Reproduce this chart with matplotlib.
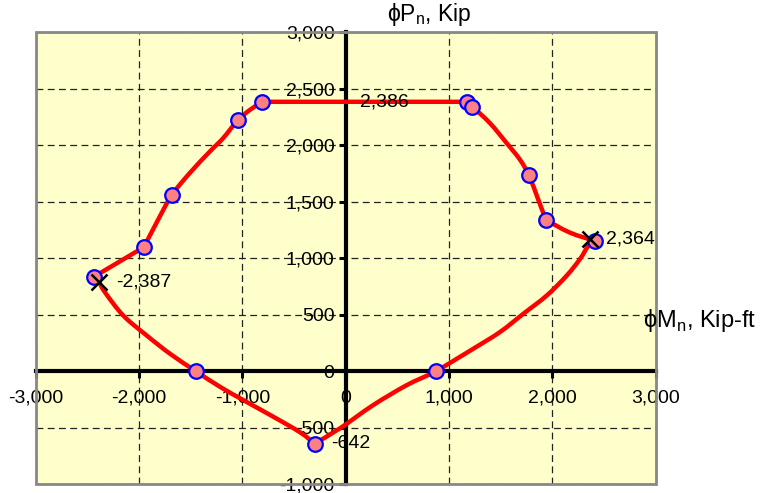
import matplotlib
matplotlib.use("Agg")
import matplotlib.pyplot as plt
from matplotlib.patches import Rectangle, PathPatch
from matplotlib.path import Path
from matplotlib.ticker import FuncFormatter, MultipleLocator

plt.rcParams['font.family'] = ['Liberation Sans', 'DejaVu Sans']

# outline of the interaction diagram (phi Mn, phi Pn)
curve_m = [-2437, -1953, -1830, -1685, -1507, -1313, -1185, -1046, -926, -807,
           0, 1171, 1226, 1397, 1558, 1687, 1774, 1864, 1939, 2171, 2413,
           2349, 2268, 2139, 1946, 1719, 1494, 1235, 874, 590, 267, -55, -300,
           -442, -701, -991, -1217, -1452, -1701, -1927, -2153, -2330, -2387, -2437]
curve_p = [836, 1098, 1316, 1556, 1757, 1947, 2065, 2221, 2315, 2386,
           2386, 2386, 2344, 2197, 2021, 1874, 1735, 1521, 1339, 1227, 1153,
           1109, 992, 845, 669, 507, 346, 198, 0, -125, -301, -507, -642,
           -542, -404, -257, -139, 0, 154, 316, 492, 698, 790, 836]
# vertices where the outline has a sharp corner
corners = {0, 1, 9, 10, 11, 12, 18, 20, 32, 42, 43}

# computed points shown as circles
pts_m = [-2437, -1953, -1685, -1046, -807, 1171, 1226, 1774, 1939, 2413, 874, -300, -1452]
pts_p = [836, 1098, 1556, 2221, 2386, 2386, 2344, 1735, 1339, 1153, 0, -642, 0]

# balanced points (x markers)
bal_m = [-2387, 2364]
bal_p = [790, 1168]

# data labels
lab_m = [0, -2387, 2364, -300]
lab_p = [2386, 790, 1168, -642]
lab_txt = ["2,386", "-2,387", "2,364", "-642"]


def smooth_path(xs, ys, sharp):
    # smoothed line through the points, kept sharp at the corner vertices
    pts = list(zip(xs, ys))
    verts = [pts[0]]
    codes = [Path.MOVETO]
    n = len(pts)
    for i in range(n - 1):
        p1 = pts[i]
        p2 = pts[i + 1]
        p0 = p1 if (i in sharp or i == 0) else pts[i - 1]
        p3 = p2 if (i + 1 in sharp or i + 1 == n - 1) else pts[i + 2]
        c1 = (p1[0] + (p2[0] - p0[0]) / 6, p1[1] + (p2[1] - p0[1]) / 6)
        c2 = (p2[0] - (p3[0] - p1[0]) / 6, p2[1] - (p3[1] - p1[1]) / 6)
        verts += [c1, c2, p2]
        codes += [Path.CURVE4] * 3
    return Path(verts, codes)


fig = plt.figure(figsize=(7.61, 4.93), dpi=100)
ax = fig.add_axes([0.047, 0.0183, 0.8144, 0.9158])
ax.set_facecolor('#FFFFCC')
ax.set_xlim(-3000, 3000)
ax.set_ylim(-1000, 3000)

ax.xaxis.set_major_locator(MultipleLocator(1000))
ax.yaxis.set_major_locator(MultipleLocator(500))
fmt = FuncFormatter(lambda v, pos: f"{v:,.0f}")
ax.xaxis.set_major_formatter(fmt)
ax.yaxis.set_major_formatter(fmt)
ax.grid(True, color='#222222', linestyle=(0, (5.5, 3.5)), linewidth=0.9)
ax.set_axisbelow(True)

for s in ['top', 'right']:
    ax.spines[s].set_visible(False)
ax.spines['left'].set_position(('data', 0))
ax.spines['bottom'].set_position(('data', 0))
for s in ['left', 'bottom']:
    ax.spines[s].set_linewidth(3)
    ax.spines[s].set_color('black')
    ax.spines[s].set_zorder(1.5)
ax.tick_params(axis='y', direction='out', length=5, width=2.2, pad=3, labelsize=14)
ax.tick_params(axis='x', direction='out', length=5, width=2.2, pad=8.5, labelsize=14)

ax.add_patch(Rectangle((0, 0), 1, 1, transform=ax.transAxes, fill=False,
                       edgecolor='#888888', linewidth=2, clip_on=False, zorder=5))

ax.add_patch(PathPatch(smooth_path(curve_m, curve_p, corners), facecolor='none',
                       edgecolor='#FF0000', linewidth=3.2, joinstyle='round',
                       capstyle='round', zorder=3, clip_on=False))
ax.plot(pts_m, pts_p, linestyle='none', marker='o', markersize=10.5,
        markerfacecolor='#FF8080', markeredgecolor='#0000FF', markeredgewidth=1.6,
        zorder=4, clip_on=False)
ax.plot(bal_m, bal_p, linestyle='none', marker='x', markersize=11,
        markeredgecolor='black', markeredgewidth=1.8, zorder=5, clip_on=False)

for m, p, t in zip(lab_m, lab_p, lab_txt):
    dx = 10 if t == "2,386" else 12
    ax.annotate(t, (m, p), xytext=(dx, 0), textcoords='offset points',
                va='center', ha='left', fontsize=14, zorder=6)

fig.text(387 / 761, 1 - 15 / 493, r"ϕP$_{\mathregular{n}}$, Kip", fontsize=16.5,
         ha='left', va='center')
fig.text(643 / 761, 1 - 320 / 493, r"ϕM$_{\mathregular{n}}$, Kip-ft", fontsize=17,
         ha='left', va='center')

fig.savefig("out.png", dpi=100)
